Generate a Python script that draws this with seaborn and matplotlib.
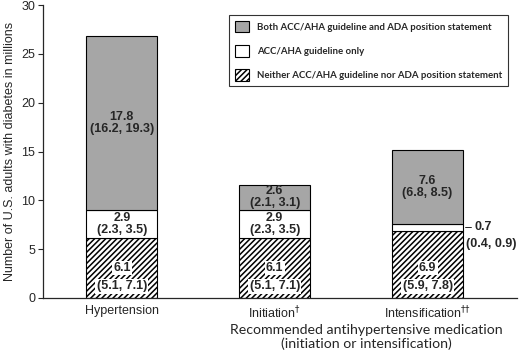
import matplotlib
matplotlib.use("Agg")
import matplotlib.pyplot as plt
import matplotlib.transforms as mtransforms
from matplotlib.patches import Patch
import seaborn as sns
import pandas as pd
import numpy as np

categories = ["Hypertension", "Initiation$^{\u2020}$", "Intensification$^{\u2020\u2020}$"]
neither = [6.1, 6.1, 6.9]
neither_ci = ["(5.1, 7.1)", "(5.1, 7.1)", "(5.9, 7.8)"]
acc_only = [2.9, 2.9, 0.7]
acc_only_ci = ["(2.3, 3.5)", "(2.3, 3.5)", "(0.4, 0.9)"]
both = [17.8, 2.6, 7.6]
both_ci = ["(16.2, 19.3)", "(2.1, 3.1)", "(6.8, 8.5)"]
legend_labels = ["Both ACC/AHA guideline and ADA position statement",
                 "ACC/AHA guideline only",
                 "Neither ACC/AHA guideline nor ADA position statement"]
yticks = [0, 5, 10, 15, 20, 25, 30]

sns.set_style("ticks")
plt.rcParams['font.family'] = ['Liberation Sans', 'DejaVu Sans']
plt.rcParams['hatch.linewidth'] = 1.1

fig = plt.figure(figsize=(5.2, 3.53), dpi=100)
ax = fig.add_axes([43/520, 1-298/353, (517-43)/520, (298-5)/353])

df = pd.DataFrame({"cat": categories, "neither": neither, "acc": acc_only, "both": both})
x = np.arange(len(categories))
w = 0.465
b1 = np.array(neither)
b2 = b1 + np.array(acc_only)

sns.barplot(data=df, x="cat", y="neither", ax=ax, color="white", edgecolor="black",
            linewidth=0.8, hatch="//////", width=w, saturation=1)
sns.barplot(data=df, x="cat", y="acc", ax=ax, color="white", edgecolor="black",
            linewidth=0.8, width=w, saturation=1, bottom=b1)
sns.barplot(data=df, x="cat", y="both", ax=ax, color="#a6a6a6", edgecolor="black",
            linewidth=0.8, width=w, saturation=1, bottom=b2)

ax.set_xlim(-0.516, 2.585)
ax.set_ylim(0, 30)
ax.set_yticks(yticks)
ax.set_xlabel("")
ax.set_ylabel("Number of U.S. adults with diabetes in millions", fontsize=9, labelpad=4)
ax.tick_params(axis='y', labelsize=9, length=3.5, width=0.8, pad=2)
ax.tick_params(axis='x', labelsize=9, length=0, pad=5)
for s in ["top", "right"]:
    ax.spines[s].set_visible(False)
for s in ["left", "bottom"]:
    ax.spines[s].set_linewidth(0.9)

box = dict(boxstyle="square,pad=0.1", fc="white", ec="none")
lbl = dict(fontsize=9, fontweight="bold")
for i in range(len(categories)):
    ax.text(x[i], 3.07, f"{neither[i]}", ha="center", va="center", bbox=box, **lbl)
    ax.text(x[i], 1.2, neither_ci[i], ha="center", va="center", bbox=box, **lbl)
    ax.text(x[i], b2[i] + both[i]/2, f"{both[i]}\n{both_ci[i]}", ha="center", va="center",
            linespacing=1.0, **lbl)
    if acc_only[i] > 1.5:
        ax.text(x[i], b1[i] + acc_only[i]/2, f"{acc_only[i]}\n{acc_only_ci[i]}",
                ha="center", va="center", linespacing=1.0, **lbl)
    else:
        ym = b1[i] + acc_only[i]/2
        ax.plot([x[i] + w/2 + 0.012, x[i] + w/2 + 0.05], [ym, ym], color="black", lw=0.6)
        ax.text(x[i] + w/2 + 0.075, ym, f"{acc_only[i]}", ha="left", va="center", **lbl)
        ax.text(x[i] + w/2 + 0.02, ym - 1.75, acc_only_ci[i], ha="left", va="center", **lbl)

trans = mtransforms.blended_transform_factory(ax.transData, fig.transFigure)
ax.text(1.6, 1 - 337/353, "Recommended antihypertensive medication\n(initiation or intensification)",
        transform=trans, ha="center", va="center", fontsize=10.2, family=["Lato", "DejaVu Sans"],
        linespacing=1.1)

handles = [Patch(facecolor="#a6a6a6", edgecolor="black", lw=0.8),
           Patch(facecolor="white", edgecolor="black", lw=0.8),
           Patch(facecolor="white", edgecolor="black", lw=0.8, hatch="//////")]
leg = ax.legend(handles, legend_labels, loc="upper left", bbox_to_anchor=(229/520, 1-15/353),
                bbox_transform=fig.transFigure, frameon=True, fancybox=False,
                prop={"family": ["Lato", "DejaVu Sans"], "weight": "bold", "size": 6.9},
                handlelength=1.5, handleheight=1.5, labelspacing=1.3, borderpad=0.6,
                handletextpad=0.85, borderaxespad=0)
leg.get_frame().set_edgecolor("black")
leg.get_frame().set_linewidth(0.8)

fig.savefig("out.png", dpi=100)
